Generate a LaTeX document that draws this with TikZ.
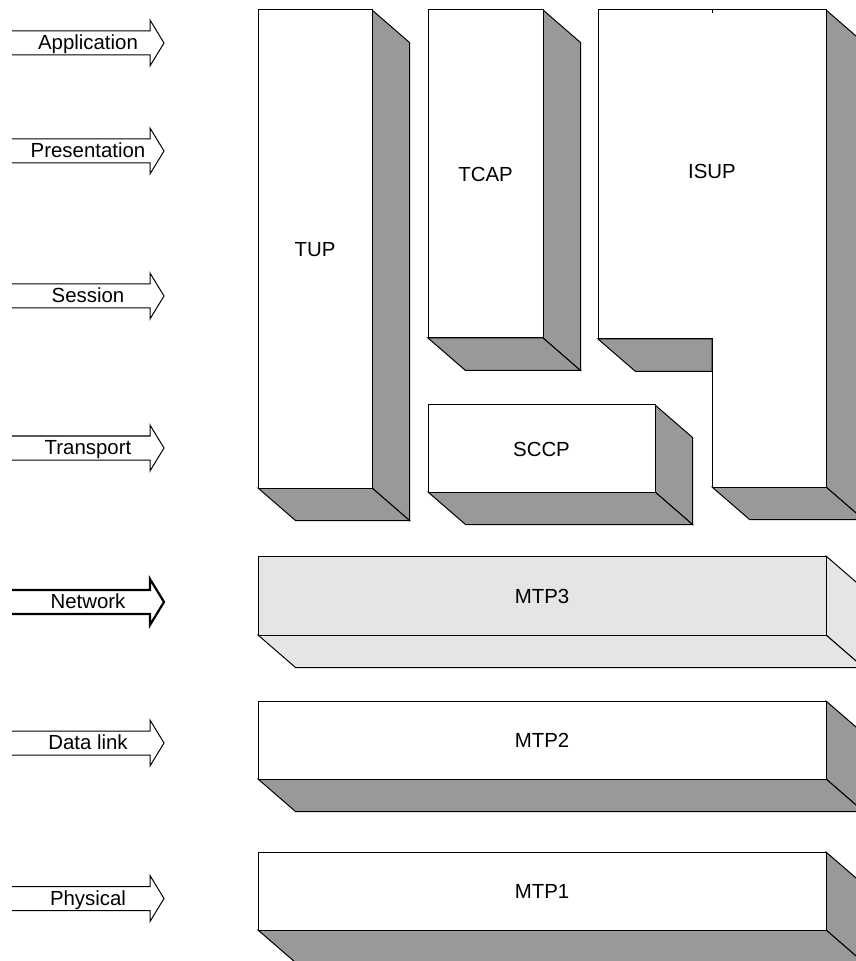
\documentclass[tikz,border=0pt]{standalone}
\usepackage{fontspec}
\setmainfont{Liberation Sans}

\definecolor{sideColor}{RGB}{153,153,153}
\definecolor{paleColor}{RGB}{229,229,229}

\tikzset{
  layerText/.style={font=\fontsize{10.2}{12}\selectfont, inner sep=0pt, anchor=base},
}

% block with depth: [style] name, x1, y1, x2, y2, label
\newcommand{\slab}[7][]{%
  \draw[fill=sideColor,#1] (#5,#4) -- ++(37.5,32.5) -- ++(0,#6-#4) -- (#5,#6) -- cycle;
  \draw[fill=sideColor,#1] (#3,#6) -- (#5,#6) -- ++(37.5,32.5) -- ++(#3-#5,0) -- cycle;
  \draw[fill=white,#1] (#3,#4) rectangle (#5,#6);
  \node[layerText] (#2) at ({(#3+#5)/2},{(#4+#6)/2+7.5}) {#7};
}

% open arrow: [style] name, y, label
\newcommand{\layerArrow}[4][]{%
  \draw[#1] (12,#3-12) -- (150,#3-12) -- (150,#3-23) -- (164,#3)
    -- (150,#3+23) -- (150,#3+12) -- (12,#3+12);
  \node[layerText] (#2) at (88,#3+6.5) {#4};
}

\begin{document}
\begin{tikzpicture}[x=.5pt,y=-.5pt,line width=.5pt]
  \useasboundingbox (0,0) rectangle (855,961);
  % OSI layers
  \layerArrow{application}{43}{Application}
  \layerArrow{presentation}{151}{Presentation}
  \layerArrow{session}{296}{Session}
  \layerArrow{transport}{448}{Transport}
  \layerArrow[line width=1.1pt]{network}{602}{Network}
  \layerArrow{datalink}{743}{Data link}
  \layerArrow{physical}{898.5}{Physical}
  % User parts
  \slab{tup}{258}{10}{372}{488}{TUP}
  \slab{tcap}{428}{10}{543}{338}{TCAP}
  \slab{sccp}{428}{405}{655}{492}{SCCP}
  % ISUP
  \draw[fill=sideColor] (598,339) -- (712,339) -- (712,371.5) -- (635.5,371.5) -- cycle;
  \draw[fill=sideColor] (826,10) -- ++(37.5,32.5) -- (863.5,519.5) -- (826,487) -- cycle;
  \draw[fill=sideColor] (712,487) -- (826,487) -- ++(37.5,32.5) -- (749.5,519.5) -- cycle;
  \draw[fill=white] (598,10) -- (826,10) -- (826,487) -- (712,487) -- (712,339)
    -- (598,339) -- cycle;
  \draw (712,10) -- (712,13.5);
  \node[layerText] (isup) at (712,179) {ISUP};
  % MTP
  \slab[fill=paleColor]{mtp3}{258}{556}{826}{635}{MTP3}
  \slab{mtp2}{258}{701}{826}{779}{MTP2}
  \slab{mtp1}{258}{852}{826}{930}{MTP1}
\end{tikzpicture}
\end{document}
